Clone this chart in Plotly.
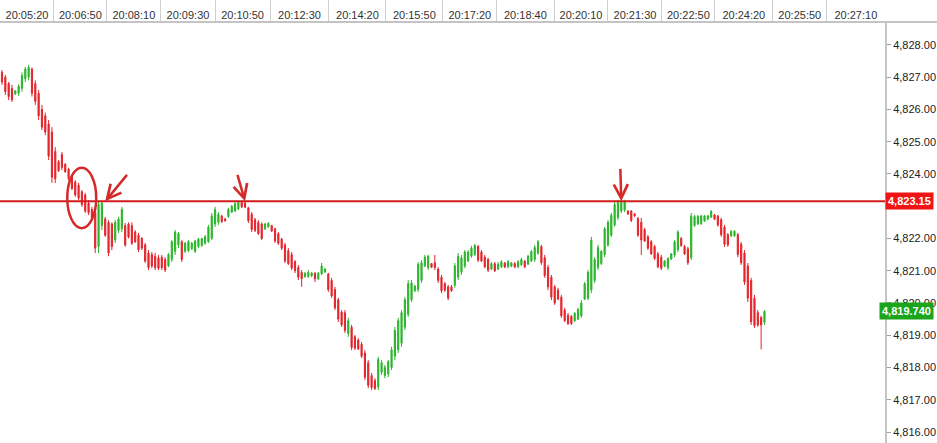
import plotly.graph_objects as go

# OHLC per bar (tick chart, one bar per index)
open_ = [
    4827.15, 4827.00, 4826.80, 4826.65, 4826.48, 4826.50, 4826.65, 4826.95, 4827.00, 4827.25,
    4826.80, 4826.50, 4826.00, 4825.80, 4825.55, 4825.30, 4824.70, 4824.38, 4824.60, 4824.30,
    4824.15, 4823.92, 4823.75, 4823.65, 4823.45, 4823.35, 4823.10, 4822.90, 4822.80, 4821.75,
    4822.40, 4822.60, 4822.50, 4822.45, 4821.95, 4822.25, 4822.30, 4822.40, 4822.45, 4822.40,
    4822.20, 4822.10, 4822.00, 4821.80, 4821.55, 4821.50, 4821.45, 4821.40, 4821.42, 4821.35,
    4821.15, 4821.35, 4821.60, 4821.80, 4821.90, 4821.60, 4821.62, 4821.68, 4821.60, 4821.75,
    4821.78, 4821.85, 4821.90, 4822.00, 4822.45, 4822.50, 4822.70, 4822.60, 4822.68, 4822.82,
    4822.85, 4822.92, 4823.12, 4823.10, 4822.95, 4822.75, 4822.58, 4822.50, 4822.45, 4822.30,
    4822.36, 4822.40, 4822.30, 4822.15, 4821.98, 4821.80, 4821.62, 4821.50, 4821.28, 4821.10,
    4820.95, 4820.82, 4820.82, 4820.84, 4820.92, 4820.75, 4820.90, 4820.96, 4820.90, 4820.70,
    4820.42, 4820.10, 4819.72, 4819.70, 4819.05, 4819.25, 4818.95, 4818.85, 4818.72, 4818.45,
    4818.15, 4817.75, 4817.60, 4817.40, 4817.85, 4817.75, 4817.80, 4818.00, 4818.35, 4818.55,
    4818.75, 4819.25, 4819.65, 4820.10, 4820.38, 4820.42, 4820.70, 4821.15, 4821.10, 4821.22,
    4821.25, 4821.05, 4820.80, 4820.60, 4820.50, 4820.50, 4820.55, 4820.80, 4820.95, 4821.15,
    4821.30, 4821.45, 4821.50, 4821.75, 4821.58, 4821.42, 4821.35, 4821.05, 4821.22, 4821.05,
    4821.12, 4821.24, 4821.12, 4821.14, 4821.22, 4821.12, 4821.18, 4821.30, 4821.20, 4821.30,
    4821.35, 4821.55, 4821.75, 4821.40, 4821.10, 4820.80, 4820.50, 4820.40, 4820.18, 4819.78,
    4819.62, 4819.58, 4819.45, 4819.50, 4819.60, 4820.12, 4820.15, 4820.40, 4820.70, 4821.10,
    4821.22, 4821.50, 4821.80, 4822.10, 4822.42, 4822.65, 4822.85, 4822.88, 4822.85, 4822.85,
    4822.76, 4822.62, 4822.50, 4822.28, 4822.05, 4821.90, 4821.75, 4821.52, 4821.42, 4821.14,
    4821.10, 4821.36, 4821.48, 4821.65, 4822.00, 4821.75, 4821.68, 4821.40, 4822.40, 4822.45,
    4822.46, 4822.54, 4822.60, 4822.66, 4822.73, 4822.70, 4822.58, 4822.35, 4822.12, 4822.08,
    4822.08, 4822.12, 4821.82, 4821.55, 4821.15, 4820.70, 4820.15, 4819.70, 4819.55, 4819.40,
]
high = [
    4827.22, 4827.07, 4826.85, 4826.76, 4826.60, 4826.78, 4827.15, 4827.32, 4827.38, 4827.30,
    4826.90, 4826.60, 4826.14, 4825.90, 4825.67, 4825.45, 4824.83, 4824.43, 4824.68, 4824.34,
    4824.19, 4823.97, 4823.81, 4823.72, 4823.50, 4823.41, 4823.19, 4822.98, 4822.88, 4823.15,
    4823.15, 4822.67, 4822.57, 4822.50, 4822.57, 4822.67, 4822.98, 4822.48, 4822.50, 4822.50,
    4822.26, 4822.17, 4822.05, 4821.86, 4821.64, 4821.58, 4821.55, 4821.49, 4821.49, 4821.42,
    4821.55, 4821.95, 4822.26, 4822.20, 4821.95, 4821.89, 4821.95, 4821.89, 4821.95, 4822.02,
    4822.02, 4822.11, 4822.42, 4822.79, 4822.98, 4822.82, 4822.73, 4822.64, 4822.95, 4823.04,
    4823.13, 4823.17, 4823.17, 4823.13, 4822.98, 4822.82, 4822.64, 4822.57, 4822.50, 4822.48,
    4822.50, 4822.42, 4822.33, 4822.20, 4822.02, 4821.86, 4821.70, 4821.58, 4821.33, 4821.18,
    4821.02, 4820.96, 4821.02, 4820.96, 4820.96, 4820.96, 4821.24, 4821.08, 4820.93, 4820.78,
    4820.50, 4820.16, 4819.78, 4819.78, 4819.54, 4819.32, 4819.01, 4818.91, 4818.79, 4818.54,
    4818.23, 4817.83, 4817.67, 4818.33, 4818.23, 4818.08, 4818.23, 4818.64, 4819.26, 4819.54,
    4819.78, 4820.19, 4820.71, 4820.71, 4820.56, 4821.27, 4821.33, 4821.49, 4821.49, 4821.24,
    4821.49, 4821.11, 4820.87, 4820.65, 4820.56, 4820.56, 4821.24, 4821.55, 4821.49, 4821.64,
    4821.64, 4821.77, 4821.83, 4821.80, 4821.64, 4821.49, 4821.40, 4821.27, 4821.27, 4821.27,
    4821.33, 4821.27, 4821.33, 4821.27, 4821.27, 4821.33, 4821.40, 4821.33, 4821.49, 4821.64,
    4821.80, 4821.95, 4821.80, 4821.49, 4821.18, 4820.87, 4820.56, 4820.47, 4820.25, 4819.85,
    4819.69, 4819.63, 4819.72, 4819.85, 4820.09, 4820.65, 4821.02, 4822.05, 4821.42, 4821.80,
    4821.64, 4822.36, 4822.57, 4822.79, 4823.13, 4823.20, 4823.20, 4823.20, 4822.88, 4822.88,
    4822.79, 4822.67, 4822.64, 4822.33, 4822.11, 4821.95, 4821.80, 4821.58, 4821.49, 4821.33,
    4821.42, 4821.55, 4821.95, 4822.26, 4822.05, 4821.80, 4821.74, 4822.79, 4822.73, 4822.73,
    4822.73, 4822.73, 4822.73, 4822.88, 4822.76, 4822.73, 4822.64, 4822.42, 4822.17, 4822.26,
    4822.26, 4822.17, 4821.89, 4821.64, 4821.24, 4820.78, 4820.25, 4819.78, 4819.60, 4819.78,
]
low = [
    4826.76, 4826.45, 4826.29, 4826.23, 4826.45, 4826.42, 4826.55, 4826.85, 4826.90, 4826.40,
    4826.14, 4825.67, 4825.36, 4825.20, 4824.43, 4823.72, 4823.72, 4824.06, 4824.12, 4824.03,
    4823.81, 4823.50, 4823.29, 4823.19, 4822.98, 4822.79, 4822.73, 4822.57, 4821.55, 4821.55,
    4822.26, 4822.05, 4821.45, 4821.64, 4821.86, 4822.17, 4822.20, 4821.74, 4822.00, 4821.80,
    4821.86, 4821.58, 4821.64, 4821.24, 4821.02, 4821.08, 4821.02, 4821.02, 4821.02, 4820.96,
    4821.11, 4821.27, 4821.49, 4821.70, 4821.27, 4821.55, 4821.58, 4821.64, 4821.55, 4821.70,
    4821.74, 4821.80, 4821.86, 4821.95, 4822.36, 4822.42, 4822.48, 4822.52, 4822.64, 4822.79,
    4822.82, 4822.88, 4822.94, 4822.94, 4822.48, 4822.20, 4822.20, 4822.11, 4821.95, 4822.26,
    4822.33, 4822.20, 4821.86, 4821.80, 4821.64, 4821.24, 4821.18, 4821.02, 4820.93, 4820.71,
    4820.50, 4820.78, 4820.78, 4820.80, 4820.65, 4820.71, 4820.87, 4820.93, 4820.34, 4820.16,
    4819.78, 4819.41, 4819.26, 4819.07, 4818.95, 4818.54, 4818.54, 4818.54, 4818.29, 4817.61,
    4817.36, 4817.30, 4817.30, 4817.30, 4817.77, 4817.67, 4817.70, 4817.92, 4818.23, 4818.45,
    4818.64, 4819.16, 4819.57, 4820.03, 4820.34, 4820.34, 4820.62, 4821.11, 4821.02, 4821.08,
    4821.02, 4820.62, 4820.31, 4820.34, 4820.09, 4820.34, 4820.47, 4820.71, 4820.87, 4821.08,
    4821.27, 4821.40, 4821.46, 4821.27, 4821.27, 4821.08, 4820.96, 4821.02, 4820.96, 4821.02,
    4821.08, 4821.08, 4821.08, 4821.11, 4821.08, 4821.08, 4821.15, 4821.08, 4821.18, 4821.27,
    4821.27, 4821.49, 4821.18, 4820.78, 4820.40, 4820.09, 4819.94, 4820.09, 4819.54, 4819.41,
    4819.32, 4819.32, 4819.41, 4819.47, 4819.54, 4820.09, 4820.09, 4820.31, 4820.62, 4821.02,
    4821.18, 4821.42, 4821.74, 4822.05, 4822.36, 4822.57, 4822.79, 4822.82, 4822.73, 4822.51,
    4822.67, 4822.05, 4821.49, 4821.89, 4821.64, 4821.49, 4821.33, 4821.08, 4821.02, 4821.11,
    4821.02, 4821.33, 4821.42, 4821.58, 4821.74, 4821.49, 4821.18, 4821.33, 4822.36, 4822.42,
    4822.42, 4822.51, 4822.57, 4822.64, 4822.57, 4822.36, 4822.05, 4821.74, 4821.74, 4822.05,
    4822.05, 4821.42, 4821.18, 4820.56, 4820.03, 4819.32, 4819.23, 4819.26, 4818.56, 4819.32,
]
close = [
    4826.85, 4826.55, 4826.40, 4826.30, 4826.58, 4826.72, 4827.05, 4827.25, 4827.30, 4826.50,
    4826.25, 4825.80, 4825.45, 4825.30, 4824.55, 4823.90, 4823.85, 4824.10, 4824.20, 4824.07,
    4823.86, 4823.55, 4823.35, 4823.25, 4823.05, 4822.85, 4822.80, 4822.62, 4821.70, 4823.05,
    4823.10, 4822.10, 4821.55, 4821.75, 4822.50, 4822.60, 4822.90, 4821.80, 4822.05, 4821.85,
    4821.90, 4821.65, 4821.70, 4821.30, 4821.10, 4821.15, 4821.10, 4821.08, 4821.10, 4821.02,
    4821.50, 4821.90, 4822.20, 4822.15, 4821.35, 4821.85, 4821.90, 4821.85, 4821.92, 4821.98,
    4822.00, 4822.05, 4822.35, 4822.70, 4822.90, 4822.75, 4822.52, 4822.55, 4822.90, 4823.00,
    4823.08, 4823.12, 4822.98, 4822.97, 4822.55, 4822.28, 4822.25, 4822.15, 4822.00, 4822.45,
    4822.47, 4822.23, 4821.92, 4821.85, 4821.70, 4821.30, 4821.22, 4821.08, 4821.00, 4820.80,
    4820.75, 4820.92, 4820.95, 4820.93, 4820.75, 4820.92, 4821.15, 4821.05, 4820.42, 4820.22,
    4819.85, 4819.50, 4819.32, 4819.15, 4819.45, 4818.62, 4818.60, 4818.58, 4818.35, 4817.70,
    4817.45, 4817.38, 4817.35, 4818.25, 4818.15, 4818.00, 4818.18, 4818.55, 4819.15, 4819.45,
    4819.70, 4820.10, 4820.60, 4820.62, 4820.52, 4821.20, 4821.25, 4821.42, 4821.45, 4821.11,
    4821.10, 4820.70, 4820.38, 4820.40, 4820.15, 4820.38, 4821.15, 4821.45, 4821.40, 4821.58,
    4821.58, 4821.70, 4821.78, 4821.33, 4821.30, 4821.12, 4821.02, 4821.22, 4821.00, 4821.20,
    4821.28, 4821.12, 4821.28, 4821.24, 4821.12, 4821.28, 4821.35, 4821.12, 4821.45, 4821.60,
    4821.72, 4821.90, 4821.25, 4820.85, 4820.50, 4820.18, 4820.00, 4820.12, 4819.60, 4819.45,
    4819.36, 4819.36, 4819.68, 4819.80, 4820.00, 4820.60, 4820.95, 4821.95, 4821.35, 4821.72,
    4821.60, 4822.30, 4822.50, 4822.72, 4823.05, 4823.12, 4823.12, 4823.14, 4822.76, 4822.56,
    4822.70, 4822.10, 4821.95, 4821.92, 4821.70, 4821.52, 4821.38, 4821.12, 4821.08, 4821.30,
    4821.38, 4821.52, 4821.90, 4822.20, 4821.78, 4821.52, 4821.25, 4822.70, 4822.68, 4822.68,
    4822.70, 4822.70, 4822.70, 4822.84, 4822.60, 4822.42, 4822.12, 4821.82, 4821.80, 4822.22,
    4822.22, 4821.50, 4821.25, 4820.65, 4820.15, 4819.42, 4819.30, 4819.32, 4819.32, 4819.74,
]

time_labels = [
    "20:05:20", "20:06:50", "20:08:10", "20:09:30", "20:10:50", "20:12:30",
    "20:14:20", "20:15:50", "20:17:20", "20:18:40", "20:20:10", "20:21:30",
    "20:22:50", "20:24:20", "20:25:50", "20:27:10",
]
# bar index where each time cell ends on the top axis
time_breaks = [15.6, 31.5, 47.7, 64.0, 80.5, 98.2, 115.3, 132.4, 148.6,
               165.8, 182.0, 198.2, 214.1, 231.5, 247.7]

price_ticks = [4816, 4817, 4818, 4819, 4820, 4821, 4822, 4823, 4824, 4825, 4826, 4827, 4828]

resistance = 4823.15
arrow_bars = [31, 73, 186]
circled_bars = (20, 28)

RED = "#e3242b"
GREEN = "#2bb52b"
PEN = "#d42a2a"

bars = list(range(len(close)))
x_range = [-0.6, 265.2]
y_range = [4815.66, 4828.71]

edges = [x_range[0]] + time_breaks + [x_range[1]]
label_pos = [(a + b) / 2 for a, b in zip(edges[:-1], edges[1:])]

# the resistance flag sits right on top of its nearest tick label
hidden = min(price_ticks, key=lambda p: abs(p - resistance))
price_text = ["" if p == hidden else f"{p:,.2f}" for p in price_ticks]

fig = go.Figure()
fig.add_trace(go.Candlestick(
    x=bars, open=open_, high=high, low=low, close=close,
    increasing=dict(line=dict(color=GREEN, width=1), fillcolor=GREEN),
    decreasing=dict(line=dict(color=RED, width=1), fillcolor=RED),
    whiskerwidth=0,
    hoverinfo="skip",
    showlegend=False,
))

# support / resistance line
fig.add_shape(type="line", xref="paper", x0=0, x1=1, yref="y",
              y0=resistance, y1=resistance, line=dict(color="#d01c1c", width=2))

# top axis baseline running into the right margin
fig.add_shape(type="line", xref="paper", x0=0, x1=937 / 885, yref="paper",
              y0=1, y1=1, line=dict(color="#c4c4c4", width=2))

# hand drawn ellipse around the breakdown
a, b = circled_bars
fig.add_shape(type="circle", xref="x", yref="y",
              x0=a - 0.4, x1=b + 0.3,
              y0=min(low[a:b]) - 0.25, y1=max(high[a:b]),
              line=dict(color=PEN, width=2.5))

offsets = [(23, -28), (-8, -28), (-1, -34)]
for bar, (ax, ay) in zip(arrow_bars, offsets):
    fig.add_annotation(x=bar, y=resistance, xref="x", yref="y", text="",
                       showarrow=True, arrowhead=5, arrowsize=1.1, arrowwidth=2.5,
                       arrowcolor=PEN, ax=ax, ay=ay)

# price flags on the right axis
flags = [(resistance, f"{resistance:,.2f}", "#f01414"),
         (close[-1], f"{close[-1]:,.3f}", "#1aa51a")]
for price, txt, col in flags:
    fig.add_annotation(x=1.055, xref="paper", xanchor="right", y=price, yref="y",
                       text=f"<b>{txt}</b>", showarrow=False, bgcolor=col,
                       font=dict(color="white", size=11), borderpad=2)

fig.update_layout(
    width=937, height=443,
    margin=dict(l=0, r=52, t=22, b=0, pad=0),
    paper_bgcolor="white", plot_bgcolor="white",
    font=dict(family="Liberation Sans, Arial, sans-serif", size=11, color="#333"),
    boxgap=0.5,
    showlegend=False,
    xaxis=dict(
        side="top", range=x_range, showgrid=False, zeroline=False,
        rangeslider=dict(visible=False),
        tickmode="array", tickvals=label_pos, ticktext=time_labels, ticks="",
        minor=dict(tickmode="array", tickvals=time_breaks, ticks="outside",
                   ticklen=21, tickcolor="#cfcfcf", tickwidth=1, showgrid=False),
        fixedrange=True,
    ),
    yaxis=dict(
        side="right", range=y_range, showgrid=False, zeroline=False,
        tickmode="array", tickvals=price_ticks, ticktext=price_text,
        ticks="outside", ticklen=4, tickcolor="#a0a0a0",
        showline=True, linecolor="#c4c4c4", linewidth=2,
        tickfont=dict(color="#222"),
        fixedrange=True,
    ),
)

fig.write_html("out.html", config={"displayModeBar": False},
               post_script="document.body.style.margin='0';")
